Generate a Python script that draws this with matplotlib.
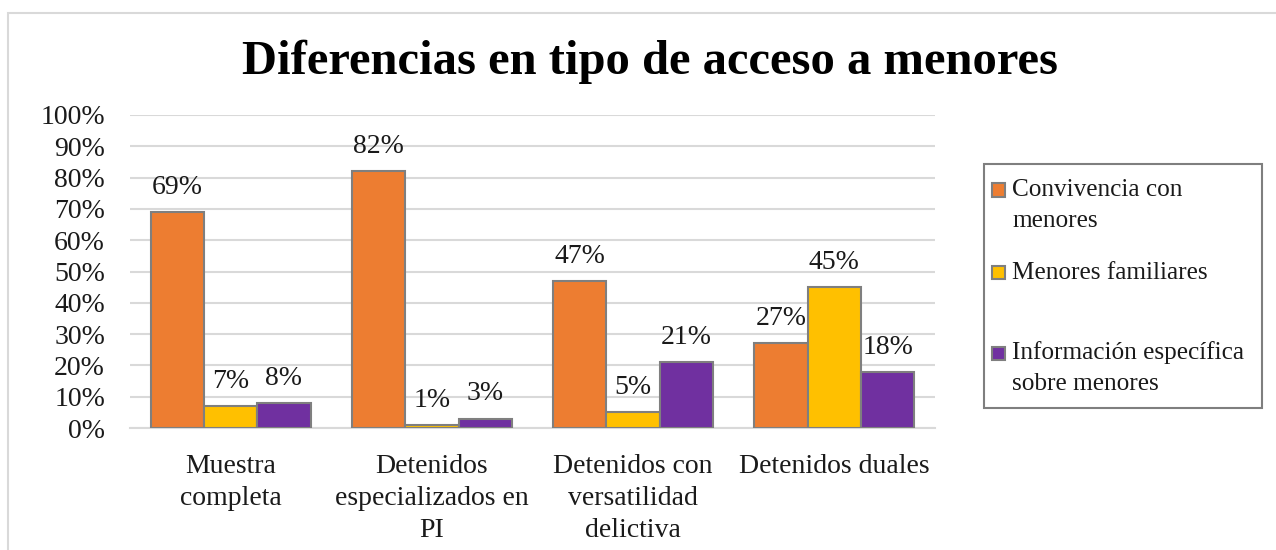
import matplotlib
matplotlib.use("Agg")
import matplotlib.pyplot as plt
import numpy as np
from matplotlib.patches import Rectangle

categories = ["Muestra\ncompleta", "Detenidos\nespecializados en\nPI", "Detenidos con\nversatilidad\ndelictiva", "Detenidos duales"]
series_names = ["Convivencia con\nmenores", "Menores familiares", "Información específica\nsobre menores"]
convivencia = [69, 82, 47, 27]
familiares = [7, 1, 5, 45]
informacion = [8, 3, 21, 18]
colors = ["#ED7D31", "#FFC000", "#7030A0"]
yticks = [0, 10, 20, 30, 40, 50, 60, 70, 80, 90, 100]

plt.rcParams['font.family'] = ['Liberation Serif', 'DejaVu Serif']

W, H = 1276, 550
FS = 20
fig = plt.figure(figsize=(W/100, H/100), dpi=100)
fig.patches.append(Rectangle((8/W, -0.1), 2, 1.1 - 13/H, transform=fig.transFigure,
                             fill=False, edgecolor="#d9d9d9", linewidth=1.5))

ax = fig.add_axes([130/W, 1 - 428/H, (935-130)/W, (428-115)/H])
x = np.arange(len(categories))
bw = 0.265
all_series = [convivencia, familiares, informacion]
for i, (vals, c) in enumerate(zip(all_series, colors)):
    ax.bar(x + (i - 1) * bw, vals, bw, color=c, edgecolor="#7f7f7f", linewidth=1.5, zorder=3)
    for xi, v in zip(x + (i - 1) * bw, vals):
        ax.text(xi, v + 5.8, f"{v}%", ha="center", va="baseline", fontsize=FS, color="#1a1a1a")

ax.set_xlim(-0.5, 3.5)
ax.set_ylim(0, 100)
ax.set_yticks(yticks)
ax.set_yticklabels([f"{t}%" for t in yticks], fontsize=FS)
ax.set_xticks(x)
ax.set_xticklabels(categories, fontsize=FS, linespacing=1.37)
ax.tick_params(axis="both", length=0, colors="#1a1a1a")
ax.tick_params(axis="x", pad=19)
ax.tick_params(axis="y", pad=18)
ax.grid(axis="y", color="#d9d9d9", linewidth=1.5, zorder=0)
for s in ["top", "right", "left"]:
    ax.spines[s].set_visible(False)
ax.spines["bottom"].set_color("#d9d9d9")
ax.spines["bottom"].set_linewidth(1.5)

fig.text(650/W, 1 - 74/H, "Diferencias en tipo de acceso a menores", ha="center", va="baseline",
         fontsize=35, fontweight="bold", color="black")

# legend (manual layout to mimic spreadsheet spacing)
fig.patches.append(Rectangle((984/W, 1 - 408/H), (1262-984)/W, (408-164)/H, transform=fig.transFigure,
                             fill=False, edgecolor="#7f7f7f", linewidth=1.5))
leg_centers = [190, 272, 353]
for name, c, yc in zip(series_names, colors, leg_centers):
    fig.patches.append(Rectangle((992/W, 1 - (yc + 6.5)/H), 13/W, 13/H, transform=fig.transFigure,
                                 facecolor=c, edgecolor="#7f7f7f", linewidth=1.5))
    nl = name.count("\n")
    fig.text(1012/W, 1 - (yc + 7 + 30 * nl)/H, name, ha="left", va="baseline", fontsize=18.2,
             color="#1a1a1a", linespacing=1.5)

fig.savefig("out.png", dpi=100)
